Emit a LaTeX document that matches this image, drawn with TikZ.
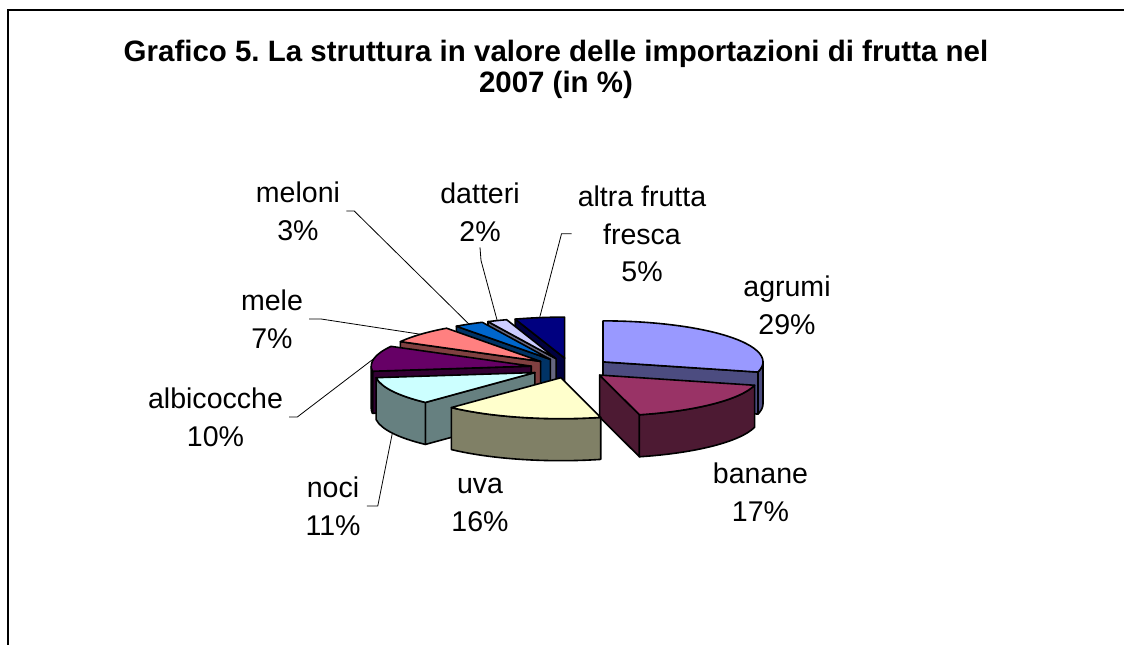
\documentclass[tikz,border=0pt]{standalone}
\usepackage{fontspec}
\setmainfont{Liberation Sans}
\usepackage{xcolor}
\usepackage{tikz}
\usetikzlibrary{positioning}
\frenchspacing
\definecolor{agrumitop}{HTML}{9999FF}
\definecolor{agrumiside}{HTML}{4C4C80}
\definecolor{bananetop}{HTML}{993366}
\definecolor{bananeside}{HTML}{4D1A33}
\definecolor{uvatop}{HTML}{FFFFCC}
\definecolor{uvaside}{HTML}{808066}
\definecolor{nocitop}{HTML}{CCFFFF}
\definecolor{nociside}{HTML}{668080}
\definecolor{albicocchetop}{HTML}{660066}
\definecolor{albicocheside}{HTML}{330033}
\definecolor{meletop}{HTML}{FF8080}
\definecolor{meleside}{HTML}{804040}
\definecolor{melonitop}{HTML}{0066CC}
\definecolor{meloniside}{HTML}{003366}
\definecolor{dattericolor}{HTML}{CCCCFF}
\definecolor{datteriside}{HTML}{666680}
\definecolor{altratop}{HTML}{000080}
\definecolor{altraside}{HTML}{000040}
\begin{document}
\begin{tikzpicture}[x=0.75pt,y=0.75pt,
  face/.style={draw=black,line width=1.2pt,line join=round},
  rim/.style={x radius=160,y radius=41},
  lbl/.style={align=center,anchor=north,inner sep=4.5pt,font=\fontsize{21.4pt}{28.1pt}\selectfont},
  leader/.style={draw=black,line width=0.6pt}]
\useasboundingbox (0,0) rectangle (1124,644);
\draw[line width=0.9pt] (1130,634) -- (8,634) -- (8,-10);
\node[align=center,anchor=north,inner sep=0pt,font=\bfseries\fontsize{22.1pt}{23.3pt}\selectfont] (title) at (556,604.6) {Grafico 5. La struttura in valore delle importazioni di frutta nel\\2007 (in \%)};
\begin{scope}[shift={(571,276)}]
\begin{scope}[shift={(99:40.5 and 10)}]
\filldraw[face,fill=altraside] (0,0) -- (108:160 and 41) -- ++(0,-42) -- (0,-42) -- cycle;
\filldraw[face,fill=altratop] (0,0) -- (90:160 and 41) arc[start angle=90,end angle=108,rim] -- cycle;
\coordinate (tip-altra) at (99:160 and 41);
\end{scope}
\begin{scope}[shift={(111.6:40.5 and 10)}]
\filldraw[face,fill=datteriside] (0,0) -- (115.2:160 and 41) -- ++(0,-42) -- (0,-42) -- cycle;
\filldraw[face,fill=dattericolor] (0,0) -- (108:160 and 41) arc[start angle=108,end angle=115.2,rim] -- cycle;
\coordinate (tip-datteri) at (111.6:160 and 41);
\end{scope}
\begin{scope}[shift={(120.6:40.5 and 10)}]
\filldraw[face,fill=meloniside] (0,0) -- (126:160 and 41) -- ++(0,-42) -- (0,-42) -- cycle;
\filldraw[face,fill=melonitop] (0,0) -- (115.2:160 and 41) arc[start angle=115.2,end angle=126,rim] -- cycle;
\coordinate (tip-meloni) at (120.6:160 and 41);
\end{scope}
\begin{scope}[shift={(138.6:40.5 and 10)}]
\filldraw[face,fill=meleside] (0,0) -- (151.2:160 and 41) -- ++(0,-42) -- (0,-42) -- cycle;
\filldraw[face,fill=meletop] (0,0) -- (126:160 and 41) arc[start angle=126,end angle=151.2,rim] -- cycle;
\coordinate (tip-mele) at (138.6:160 and 41);
\end{scope}
\begin{scope}[shift={(37.8:40.5 and 10)}]
\filldraw[face,fill=agrumiside] (0,0) -- (-14.4:160 and 41) -- ++(0,-42) -- (0,-42) -- cycle;
\filldraw[face,fill=agrumiside] (-14.4:160 and 41) arc[start angle=-14.4,end angle=0,rim] -- ++(0,-42) arc[start angle=0,end angle=-14.4,rim] -- cycle;
\filldraw[face,fill=agrumitop] (0,0) -- (-14.4:160 and 41) arc[start angle=-14.4,end angle=90,rim] -- cycle;
\end{scope}
\begin{scope}[shift={(169.2:40.5 and 10)}]
\filldraw[face,fill=albicocheside] (0,0) -- (187.2:160 and 41) -- ++(0,-42) -- (0,-42) -- cycle;
\filldraw[face,fill=albicocheside] (180:160 and 41) arc[start angle=180,end angle=187.2,rim] -- ++(0,-42) arc[start angle=187.2,end angle=180,rim] -- cycle;
\filldraw[face,fill=albicocchetop] (0,0) -- (151.2:160 and 41) arc[start angle=151.2,end angle=187.2,rim] -- cycle;
\coordinate (tip-albicocche) at (169.2:160 and 41);
\end{scope}
\begin{scope}[shift={(207:40.5 and 10)}]
\filldraw[face,fill=nociside] (0,0) -- (226.8:160 and 41) -- ++(0,-42) -- (0,-42) -- cycle;
\filldraw[face,fill=nociside] (187.2:160 and 41) arc[start angle=187.2,end angle=226.8,rim] -- ++(0,-42) arc[start angle=226.8,end angle=187.2,rim] -- cycle;
\filldraw[face,fill=nocitop] (0,0) -- (187.2:160 and 41) arc[start angle=187.2,end angle=226.8,rim] -- cycle;
\path (207:160 and 41) ++(0,-42) coordinate (tip-noci);
\end{scope}
\begin{scope}[shift={(-45:40.5 and 10)}]
\filldraw[face,fill=bananeside] (0,0) -- (-75.6:160 and 41) -- ++(0,-42) -- (0,-42) -- cycle;
\filldraw[face,fill=bananeside] (-75.6:160 and 41) arc[start angle=-75.6,end angle=-14.4,rim] -- ++(0,-42) arc[start angle=-14.4,end angle=-75.6,rim] -- cycle;
\filldraw[face,fill=bananetop] (0,0) -- (-75.6:160 and 41) arc[start angle=-75.6,end angle=-14.4,rim] -- cycle;
\end{scope}
\begin{scope}[shift={(-104.4:40.5 and 10)}]
\filldraw[face,fill=uvaside] (-133.2:160 and 41) arc[start angle=-133.2,end angle=-75.6,rim] -- ++(0,-42) arc[start angle=-75.6,end angle=-133.2,rim] -- cycle;
\filldraw[face,fill=uvatop] (0,0) -- (-133.2:160 and 41) arc[start angle=-133.2,end angle=-75.6,rim] -- cycle;
\end{scope}
\end{scope}
\node[lbl] (altra) at (642,464.4) {altra frutta\\fresca\\5\%};
\node[lbl] (agrumi) at (787,374.4) {agrumi\\29\%};
\node[lbl] (banane) at (760.5,187.4) {banane\\17\%};
\node[lbl] (uva) at (480,171.8) {uva\\16\%};
\node[lbl] (noci) at (333,173.4) {noci\\11\%};
\node[lbl] (albicocche) at (215.5,262.4) {albicocche\\10\%};
\node[lbl] (mele) at (272,360.4) {mele\\7\%};
\node[lbl] (meloni) at (298,468.4) {meloni\\3\%};
\node[lbl] (datteri) at (480,467.4) {datteri\\2\%};
\draw[leader] (altra.west) -- ++(-10,0) -- (tip-altra);
\draw[leader] (datteri.south) -- ++(1,-13) -- (tip-datteri);
\draw[leader] (meloni.east) -- ++(8,0) -- (tip-meloni);
\draw[leader] (mele.east) -- ++(12,0) -- (tip-mele);
\draw[leader] (albicocche.east) -- ++(8,0) -- (tip-albicocche);
\draw[leader] (noci.east) -- ++(11,0) -- (tip-noci);
\end{tikzpicture}
\end{document}
